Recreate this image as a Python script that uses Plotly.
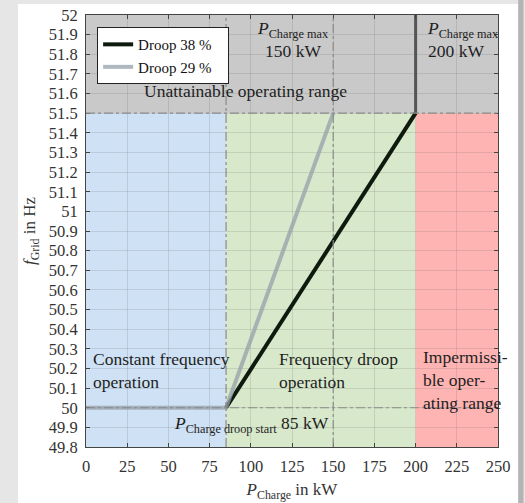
import plotly.graph_objects as go

# ---- data ----
P_DROOP_START = 85
P_MAX_29 = 150
P_MAX_38 = 200
F_NOMINAL = 50.0
F_LIMIT = 51.5
X_RANGE = [0, 250]
Y_RANGE = [49.8, 52.0]

droop38_x = [P_DROOP_START, P_MAX_38]
droop38_y = [F_NOMINAL, F_LIMIT]
droop29_x = [0, P_DROOP_START, P_MAX_29]
droop29_y = [F_NOMINAL, F_NOMINAL, F_LIMIT]
limit200_x = [P_MAX_38, P_MAX_38]
limit200_y = [F_LIMIT, Y_RANGE[1]]

x_ticks = [0, 25, 50, 75, 100, 125, 150, 175, 200, 225, 250]
y_ticks = [round(49.8 + 0.1 * i, 1) for i in range(23)]
y_tick_labels = [("%g" % v) for v in y_ticks]

FONT = "Liberation Serif, Times New Roman, serif"

fig = go.Figure()

fig.add_trace(go.Scatter(x=droop38_x, y=droop38_y, mode="lines", name="Droop 38 %   ",
                         line=dict(color="#0e1a0e", width=4)))
fig.add_trace(go.Scatter(x=droop29_x, y=droop29_y, mode="lines", name="Droop 29 %   ",
                         line=dict(color="rgba(150,160,170,0.75)", width=4)))
fig.add_trace(go.Scatter(x=limit200_x, y=limit200_y, mode="lines", showlegend=False,
                         line=dict(color="#555555", width=3)))

shapes = []
# card background
shapes.append(dict(type="rect", xref="paper", yref="paper", x0=-0.165, x1=1.049, y0=-0.2, y1=1.0255,
                   fillcolor="white", line=dict(width=0), layer="below"))
shapes.append(dict(type="rect", xref="paper", yref="paper", x0=1.049, x1=1.062, y0=-0.2, y1=1.05,
                   fillcolor="#b4b4b4", line=dict(width=0), layer="below"))
# regions
regions = [
    (X_RANGE[0], P_DROOP_START, Y_RANGE[0], F_LIMIT, "#cfe1f4"),
    (P_DROOP_START, P_MAX_38, Y_RANGE[0], F_LIMIT, "#d7e8cb"),
    (P_MAX_38, X_RANGE[1], Y_RANGE[0], F_LIMIT, "#ffb4b4"),
    (X_RANGE[0], X_RANGE[1], F_LIMIT, Y_RANGE[1], "#c9c9c9"),
]
for x0, x1, y0, y1, c in regions:
    shapes.append(dict(type="rect", xref="x", yref="y", x0=x0, x1=x1, y0=y0, y1=y1,
                       fillcolor=c, line=dict(width=0), layer="below"))
# dash-dot guide lines
dd = dict(color="#8a8a8a", width=1.2, dash="dashdot")
shapes.append(dict(type="line", xref="x", yref="y", x0=X_RANGE[0], x1=X_RANGE[1], y0=F_LIMIT, y1=F_LIMIT, line=dd))
shapes.append(dict(type="line", xref="x", yref="y", x0=X_RANGE[0], x1=X_RANGE[1], y0=F_NOMINAL, y1=F_NOMINAL, line=dd))
shapes.append(dict(type="line", xref="x", yref="y", x0=P_DROOP_START, x1=P_DROOP_START, y0=Y_RANGE[0], y1=Y_RANGE[1], line=dd))
shapes.append(dict(type="line", xref="x", yref="y", x0=P_MAX_29, x1=P_MAX_29, y0=Y_RANGE[0], y1=Y_RANGE[1], line=dd))

tf = dict(family=FONT, size=17.5, color="#1e1e1e")
annotations = [
    dict(x=97, y=51.612, text="Unattainable operating range", xanchor="center", yanchor="middle"),
    dict(x=148, y=51.995, text="<i>P</i><sub>Charge max</sub><br>150 kW", xanchor="right", yanchor="top", align="center"),
    dict(x=206, y=51.995, text="<i>P</i><sub>Charge max</sub><br>200 kW", xanchor="left", yanchor="top", align="left"),
    dict(x=3, y=50.19, text="Constant frequency<br>operation", xanchor="left", yanchor="middle", align="left"),
    dict(x=116, y=50.19, text="Frequency droop<br>operation", xanchor="left", yanchor="middle", align="left"),
    dict(x=203.5, y=50.14, text="Impermissi-<br>ble oper-<br>ating range", xanchor="left", yanchor="middle", align="left"),
    dict(x=100.5, y=49.915, text="<i>P</i><sub>Charge droop start</sub> 85 kW", xanchor="center", yanchor="middle"),
]
for a in annotations:
    a.update(xref="x", yref="y", showarrow=False, font=tf)

axis_common = dict(showline=True, linecolor="#444444", linewidth=1, mirror="ticks",
                   ticks="inside", ticklen=4, tickcolor="#444444", automargin=False,
                   showgrid=True, gridcolor="rgba(90,90,90,0.16)", gridwidth=1, zeroline=False,
                   ticklabelstandoff=4,
                   tickfont=dict(family=FONT, size=16.5, color="#333333"))

fig.update_layout(
    width=525, height=503,
    margin=dict(l=86, r=27, t=15, b=56),
    paper_bgcolor="#e6e6e6", plot_bgcolor="white",
    font=dict(family=FONT, size=16, color="#222222"),
    shapes=shapes, annotations=annotations,
    legend=dict(x=0.027, y=0.972, xanchor="left", yanchor="top", bgcolor="white",
                bordercolor="#222222", borderwidth=1, font=dict(family=FONT, size=15, color="#111111"),
                tracegroupgap=0, itemwidth=30),
    xaxis=dict(range=X_RANGE, tickvals=x_ticks, title=dict(text="<i>P</i><sub>Charge</sub> in kW",
               font=dict(family=FONT, size=17, color="#333333"), standoff=8), **axis_common),
    yaxis=dict(range=Y_RANGE, tickvals=y_ticks, ticktext=y_tick_labels,
               title=dict(text="<i>f</i><sub>Grid</sub> in Hz", font=dict(family=FONT, size=17, color="#333333"), standoff=8),
               **axis_common),
)

fig.write_html("out.html", config={"displayModeBar": False},
               post_script="document.body.style.margin='0';document.body.style.background='#e6e6e6';")
